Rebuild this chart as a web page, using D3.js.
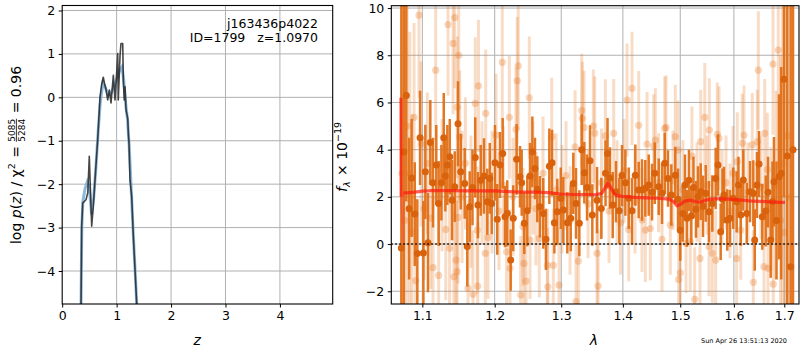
<!DOCTYPE html>
<html><head><meta charset="utf-8">
<script src="https://cdn.jsdelivr.net/npm/d3@7"></script>
<style>
body{margin:0;background:#fff}
text{font-family:"DejaVu Sans",sans-serif;fill:#000}
</style>
</head><body>
<svg id="c" width="800" height="350"></svg>
<script>
// ---- redshift posterior: log p(z) ----
const pzZ   = [0.346,0.358,0.377,0.406,0.437,0.470,0.498,0.517,0.542,0.572,0.615,0.652,0.695,0.725,0.756,0.780,0.800,0.836,0.866,0.897,0.940,0.970,1.000,1.020,1.030,1.063,1.080,1.112,1.123,1.140,1.155,1.173,1.190,1.205,1.215,1.228,1.246,1.277,1.307,1.338,1.369];
const pzLog = [-4.76,-2.97,-2.43,-2.40,-2.36,-2.20,-1.36,-2.09,-2.97,-2.50,-1.67,-0.98,0.01,0.30,0.46,0.30,0.21,-0.06,0.17,-0.13,0.51,-0.06,0.55,1.01,-0.06,0.97,1.24,1.24,0.40,-0.06,0.24,-0.29,-0.40,-0.50,-0.83,-1.06,-1.90,-2.28,-3.20,-3.97,-4.76];
const pzSmoothZ   = [0.346,0.360,0.380,0.420,0.460,0.500,0.540,0.580,0.620,0.660,0.700,0.750,0.800,0.850,0.900,0.950,1.000,1.050,1.100,1.130,1.170,1.200,1.230,1.260,1.300,1.340,1.369];
const pzSmoothLog = [-4.76,-3.00,-2.40,-2.10,-1.95,-2.10,-2.70,-2.30,-1.60,-0.80,-0.10,0.35,0.20,0.05,0.10,0.25,0.40,0.60,0.70,0.40,-0.20,-0.50,-1.10,-1.90,-3.00,-4.00,-4.76];
const zTicks = [0,1,2,3,4];
const pzTicks = [-4,-3,-2,-1,0,1,2];

// ---- 1D spectrum: high-S/N beam ----
const darkWave = [1.0726,1.0757,1.0790,1.0826,1.0859,1.0900,1.0934,1.0970,1.1014,1.1040,1.1075,1.1106,1.1142,1.1186,1.1218,1.1255,1.1287,1.1309,1.1336,1.1369,1.1400,1.1437,1.1482,1.1520,1.1575,1.1611,1.1645,1.1684,1.1723,1.1761,1.1800,1.1847,1.1894,1.1929,1.1957,1.2004,1.2037,1.2077,1.2116,1.2150,1.2183,1.2233,1.2271,1.2321,1.2371,1.2396,1.2435,1.2480,1.2521,1.2556,1.2596,1.2631,1.2672,1.2722,1.2763,1.2815,1.2857,1.2893,1.2939,1.2992,1.3033,1.3095,1.3149,1.3190,1.3233,1.3286,1.3324,1.3366,1.3410,1.3458,1.3495,1.3572,1.3642,1.3711,1.3744,1.3785,1.3830,1.3885,1.3940,1.3986,1.4042,1.4099,1.4155,1.4211,1.4269,1.4326,1.4383,1.4442,1.4500,1.4547,1.4617,1.4675,1.4723,1.4781,1.4840,1.4911,1.4960,1.5001,1.5044,1.5086,1.5122,1.5158,1.5201,1.5241,1.5287,1.5324,1.5374,1.5417,1.5467,1.5528,1.5590,1.5653,1.5697,1.5748,1.5782,1.5811,1.5873,1.5925,1.5988,1.6053,1.6088,1.6132,1.6182,1.6249,1.6313,1.6378,1.6406,1.6451,1.6491,1.6556,1.6624,1.6670,1.6724,1.6760,1.6790,1.6841,1.6892,1.6938,1.6993,1.7060,1.7131,1.7179];
const darkFlux = [-0.17,3.90,6.30,1.50,2.80,1.27,-0.40,4.50,-0.38,3.06,0.06,4.30,2.60,3.35,1.72,2.60,4.50,2.88,3.35,3.70,1.86,2.43,5.10,3.06,2.57,-0.10,1.58,2.40,3.67,1.65,2.70,2.88,1.79,2.78,1.72,3.44,1.05,3.35,3.84,1.16,1.30,-0.68,1.09,3.59,2.85,2.60,0.88,1.41,2.88,3.91,3.20,2.32,1.58,1.30,0.20,3.30,3.44,0.90,1.37,1.94,1.44,0.90,1.09,2.57,1.72,0.88,4.00,3.02,2.40,3.53,1.23,1.86,1.51,3.00,3.84,2.80,1.65,2.22,1.41,2.90,2.60,1.94,1.41,2.92,2.29,2.29,2.36,2.50,2.20,3.00,2.43,2.15,3.42,2.78,2.08,2.92,1.90,0.59,1.30,2.50,1.09,2.70,1.19,2.40,1.47,2.00,2.22,1.60,2.15,1.37,1.72,2.78,3.35,0.52,1.90,2.08,1.02,1.09,1.94,1.79,2.50,1.23,2.71,1.30,2.22,2.15,0.17,2.50,3.39,1.16,1.40,2.20,0.17,1.80,2.64,1.00,2.85,3.00,6.98,3.73,-0.96,4.00];
const darkErr  = [12.0,10.0,4.5,3.0,2.5,2.2,2.3,2.0,2.2,2.0,2.1,1.8,1.9,1.7,1.8,1.6,1.9,1.5,1.7,1.6,1.7,1.5,1.8,1.6,1.5,1.7,1.5,1.6,1.7,1.4,1.5,1.6,1.4,1.5,1.3,1.6,1.5,1.4,1.5,1.3,1.4,1.3,1.4,1.5,1.3,1.4,1.3,1.5,1.4,1.5,1.3,1.4,1.3,1.5,1.3,1.6,1.4,1.3,1.4,1.3,1.4,1.3,1.4,1.3,1.5,1.4,1.5,1.3,1.4,1.5,1.3,1.4,1.3,1.4,1.5,1.3,1.4,1.3,1.4,1.3,1.4,1.3,1.4,1.3,1.2,1.3,1.2,1.3,1.2,1.3,1.2,1.3,1.3,1.2,1.3,1.2,1.3,1.3,1.2,1.3,1.2,1.3,1.2,1.3,1.2,1.3,1.2,1.3,1.2,1.3,1.2,1.3,1.3,1.2,1.3,1.2,1.3,1.2,1.3,1.3,1.2,1.3,1.3,1.3,1.3,1.4,1.3,1.4,1.4,1.4,1.5,1.5,1.6,1.7,1.9,2.5,3.5,4.5,5.0,8.0,12.0,14.0];

// ---- 1D spectrum: low-S/N beam ----
const lightWave = [1.0735,1.0768,1.0800,1.0835,1.0865,1.0891,1.0913,1.0956,1.0983,1.1022,1.1066,1.1111,1.1142,1.1178,1.1218,1.1264,1.1314,1.1345,1.1366,1.1414,1.1425,1.1437,1.1455,1.1469,1.1473,1.1482,1.1492,1.1506,1.1538,1.1584,1.1621,1.1663,1.1691,1.1723,1.1751,1.1758,1.1768,1.1818,1.1865,1.1871,1.1904,1.1961,1.2019,1.2062,1.2110,1.2125,1.2174,1.2213,1.2223,1.2267,1.2311,1.2330,1.2345,1.2381,1.2416,1.2428,1.2461,1.2510,1.2521,1.2567,1.2611,1.2661,1.2718,1.2785,1.2791,1.2852,1.2877,1.2919,1.2965,1.3013,1.3075,1.3138,1.3218,1.3233,1.3270,1.3324,1.3334,1.3362,1.3426,1.3512,1.3535,1.3572,1.3589,1.3645,1.3708,1.3769,1.3847,1.3902,1.3961,1.4020,1.4071,1.4099,1.4155,1.4206,1.4269,1.4326,1.4383,1.4413,1.4470,1.4529,1.4558,1.4614,1.4675,1.4723,1.4746,1.4822,1.4870,1.4911,1.4960,1.4972,1.5001,1.5049,1.5104,1.5182,1.5213,1.5263,1.5305,1.5361,1.5374,1.5449,1.5492,1.5528,1.5534,1.5590,1.5653,1.5684,1.5716,1.5773,1.5849,1.5925,1.5982,1.6053,1.6065,1.6132,1.6163,1.6196,1.6274,1.6358,1.6378,1.6457,1.6477,1.6530,1.6590,1.6604,1.6656,1.6670,1.6730,1.6770,1.6776,1.6831,1.6877,1.6922,1.6959,1.7004,1.7049,1.7096];
const lightFlux = [3.00,1.00,5.00,3.00,0.50,5.37,-1.55,9.70,4.24,1.50,3.42,1.10,-1.00,7.37,-1.33,2.50,0.62,9.30,-0.18,8.50,-1.39,9.60,-0.68,-1.17,5.80,1.13,8.00,4.55,2.00,3.42,-1.88,1.80,-2.13,5.96,0.59,-1.78,6.70,2.60,-0.39,5.54,0.28,2.20,4.62,1.40,7.70,2.50,-0.33,5.37,-1.03,2.00,4.86,6.92,7.55,-2.16,0.73,-0.82,-1.57,6.20,0.17,2.80,1.50,0.24,3.00,-0.90,-1.81,4.55,-0.90,2.30,-1.74,1.90,2.90,1.00,4.12,-2.44,-0.72,5.66,5.32,4.94,1.70,5.00,4.70,-0.39,-1.78,2.60,4.58,1.40,4.69,2.20,0.90,3.10,6.10,0.62,6.60,1.80,5.03,1.02,0.59,4.24,0.66,4.15,4.40,2.60,0.20,4.90,4.94,0.80,2.70,4.55,3.98,-1.50,-1.22,2.30,0.03,0.10,3.73,-2.34,2.20,-0.61,4.34,5.37,2.50,-0.11,4.83,-0.39,-0.68,4.65,4.48,2.00,2.60,1.40,3.00,-0.61,3.49,0.59,4.27,4.62,2.20,4.20,-1.62,4.34,7.37,2.40,-0.96,4.69,3.16,-1.03,1.50,7.63,-1.70,2.50,8.22,1.00,3.42,0.50,4.58,2.00];
const lightErr  = [15.0,15.0,12.0,6.0,5.0,4.0,3.5,3.5,3.5,3.0,3.0,3.0,3.0,3.0,3.0,2.8,3.0,3.0,3.0,3.0,2.8,3.0,3.0,3.0,3.0,2.8,3.0,2.8,2.8,2.8,2.8,2.8,2.7,2.8,2.7,2.7,2.8,2.6,2.7,2.7,2.6,2.6,2.6,2.5,2.8,2.5,2.5,2.6,2.5,2.5,2.6,2.7,2.7,2.5,2.5,2.5,2.5,2.6,2.5,2.4,2.4,2.5,2.4,2.4,2.5,2.5,2.4,2.4,2.4,2.3,2.3,2.3,2.4,2.4,2.3,2.4,2.4,2.4,2.3,2.4,2.4,2.4,2.4,2.3,2.4,2.2,2.3,2.2,2.2,2.2,2.4,2.2,2.4,2.2,2.3,2.2,2.2,2.2,2.2,2.2,2.2,2.1,2.2,2.2,2.2,2.1,2.1,2.2,2.1,2.2,2.2,2.1,2.1,2.1,2.1,2.2,2.1,2.1,2.2,2.3,2.1,2.1,2.2,2.1,2.1,2.2,2.2,2.0,2.0,2.0,2.0,2.1,2.1,2.1,2.1,2.1,2.1,2.2,2.2,2.2,2.5,2.2,2.3,2.3,2.4,2.4,2.6,3.0,3.0,4.0,5.0,7.0,9.0,12.0,12.0,14.0];

// ---- best-fit model ----
const modelWave = [1.0720,1.0722,1.0748,1.0752,1.0800,1.0900,1.1000,1.1100,1.1200,1.1400,1.1600,1.1800,1.2000,1.2200,1.2400,1.2600,1.2800,1.3000,1.3200,1.3400,1.3550,1.3650,1.3700,1.3750,1.3800,1.3850,1.3900,1.4000,1.4200,1.4400,1.4600,1.4800,1.4880,1.4940,1.5000,1.5080,1.5180,1.5280,1.5350,1.5450,1.5550,1.5700,1.5900,1.6100,1.6300,1.6500,1.6700,1.6900,1.7015];
const modelFlux = [6.20,2.00,0.00,2.17,2.17,2.20,2.24,2.26,2.27,2.26,2.25,2.25,2.25,2.22,2.20,2.20,2.18,2.12,2.10,2.10,2.09,2.15,2.38,2.58,2.38,2.15,2.05,2.02,1.98,1.96,1.94,1.90,1.80,1.62,1.68,1.82,1.86,1.80,1.77,1.85,1.90,1.92,1.90,1.87,1.83,1.81,1.79,1.77,1.77];
const waveTicks = [1.1,1.2,1.3,1.4,1.5,1.6,1.7];
const fluxTicks = [-2,0,2,4,6,8,10];

const svg = d3.select("#c");
const FS = 12.5;

// ---------------- left panel ----------------
const L = {x0:62.2, x1:332.7, y0:5.5, y1:304};
const xz = d3.scaleLinear().domain([0,4.97]).range([L.x0,L.x1]);
const yp = d3.scaleLinear().domain([-4.76,2.115]).range([L.y1,L.y0]);

function grid(g, xs, xt, ys, yt, P){
  g.selectAll("line.gx").data(xt).join("line")
    .attr("x1",d=>xs(d)).attr("x2",d=>xs(d)).attr("y1",P.y0).attr("y2",P.y1)
    .attr("stroke","#b0b0b0").attr("stroke-width",1);
  g.selectAll("line.gy").data(yt).join("line").attr("class","gy")
    .attr("y1",d=>ys(d)).attr("y2",d=>ys(d)).attr("x1",P.x0).attr("x2",P.x1)
    .attr("stroke","#b0b0b0").attr("stroke-width",1);
}
function axes(xs, xt, xf, ys, yt, yf, P){
  const ax = svg.append("g").attr("transform",`translate(0,${P.y1})`)
    .call(d3.axisBottom(xs).tickValues(xt).tickFormat(xf).tickSize(3.5).tickPadding(3.5));
  const ay = svg.append("g").attr("transform",`translate(${P.x0},0)`)
    .call(d3.axisLeft(ys).tickValues(yt).tickFormat(yf).tickSize(3.5).tickPadding(3.5));
  [ax,ay].forEach(a=>{
    a.select(".domain").remove();
    a.selectAll("line").attr("stroke","#000").attr("stroke-width",1);
    a.selectAll("text").style("font-family","DejaVu Sans").style("font-size",FS+"px").attr("fill","#000");
  });
  svg.append("rect").attr("x",P.x0).attr("y",P.y0).attr("width",P.x1-P.x0).attr("height",P.y1-P.y0)
    .attr("fill","none").attr("stroke","#000").attr("stroke-width",1.1);
}

const gl = svg.append("g");
grid(gl, xz, zTicks.slice(1), yp, pzTicks, L);
svg.append("clipPath").attr("id","clipL").append("rect")
  .attr("x",L.x0).attr("y",L.y0).attr("width",L.x1-L.x0).attr("height",L.y1-L.y0);
const gLc = svg.append("g").attr("clip-path","url(#clipL)");
const lineZ = d3.line().x(d=>xz(d[0])).y(d=>yp(d[1]));
gLc.append("path").datum(d3.zip(pzSmoothZ,pzSmoothLog)).attr("d",lineZ)
  .attr("fill","none").attr("stroke","#6fa8d6").attr("stroke-width",3).attr("opacity",0.8);
gLc.append("path").datum(d3.zip(pzZ,pzLog)).attr("d",lineZ)
  .attr("fill","none").attr("stroke","#262626").attr("stroke-width",1.6).attr("opacity",0.85)
  .attr("stroke-linejoin","round");
axes(xz, zTicks, d3.format("d"), yp, pzTicks, d3.format("d"), L);

svg.append("text").attr("x",318).attr("y",27.5).attr("text-anchor","end")
  .style("font-size",FS+"px").text("j163436p4022");
svg.append("text").attr("x",318).attr("y",42).attr("text-anchor","end")
  .style("font-size",FS+"px").attr("xml:space","preserve").text("ID=1799   z=1.0970");
svg.append("text").attr("x",xz(2.48)).attr("y",345).attr("text-anchor","middle")
  .style("font-size","14px").style("font-style","italic").text("z");

// left y label assembled piece by piece (rotated)
(function(){
  const g = svg.append("g");
  let x = 0;
  function piece(t, size, dy, italic){
    const el = g.append("text").attr("x",x).attr("y",dy).style("font-size",size+"px")
      .attr("xml:space","preserve").text(t);
    if(italic) el.style("font-style","italic");
    const w = el.node().getComputedTextLength();
    return {el,w};
  }
  let p;
  p = piece("log ",14,0,false); x += p.w;
  p = piece("p",14,0,true); x += p.w;
  p = piece("(",14,0,false); x += p.w;
  p = piece("z",14,0,true); x += p.w;
  p = piece(") / χ",14,0,false); x += p.w;
  p = piece("2",9.5,-6,false); x += p.w + 1;
  p = piece(" = ",14,0,false); x += p.w;
  const n = piece("5085",9,-6.5,false);
  const d = piece("5284",9,4,false);
  const fw = Math.max(n.w,d.w);
  g.append("line").attr("x1",x).attr("x2",x+fw).attr("y1",-4.6).attr("y2",-4.6)
    .attr("stroke","#000").attr("stroke-width",0.8);
  x += fw + 1;
  p = piece(" = 0.96",14,0,false); x += p.w;
  g.attr("transform",`translate(21,${155 + x/2}) rotate(-90)`);
})();

// ---------------- right panel ----------------
const R = {x0:391.3, x1:799, y0:5.7, y1:304};
const xw = d3.scaleLog().domain([1.0597,1.7303]).range([R.x0,R.x1]);
const yf = d3.scaleLinear().domain([-2.54,10.1]).range([R.y1,R.y0]);

const gr = svg.append("g");
grid(gr, xw, waveTicks, yf, fluxTicks, R);
svg.append("clipPath").attr("id","clipR").append("rect")
  .attr("x",R.x0).attr("y",R.y0).attr("width",R.x1-R.x0).attr("height",R.y1-R.y0);
const gRc = svg.append("g").attr("clip-path","url(#clipR)");

const ORANGE = "#e8731c";
const light = d3.zip(lightWave,lightFlux,lightErr);
const dark  = d3.zip(darkWave,darkFlux,darkErr);

gRc.append("g").selectAll("line").data(light).join("line")
  .attr("x1",d=>xw(d[0])).attr("x2",d=>xw(d[0]))
  .attr("y1",d=>yf(d[1]-d[2])).attr("y2",d=>yf(d[1]+d[2]))
  .attr("stroke",ORANGE).attr("stroke-opacity",0.25).attr("stroke-width",3);
gRc.append("g").selectAll("circle").data(light).join("circle")
  .attr("cx",d=>xw(d[0])).attr("cy",d=>yf(d[1])).attr("r",3.6)
  .attr("fill",ORANGE).attr("fill-opacity",0.3);

gRc.append("g").selectAll("line").data(dark).join("line")
  .attr("x1",d=>xw(d[0])).attr("x2",d=>xw(d[0]))
  .attr("y1",d=>yf(d[1]-d[2])).attr("y2",d=>yf(d[1]+d[2]))
  .attr("stroke","#e07018").attr("stroke-opacity",0.95).attr("stroke-width",2.5);
gRc.append("g").selectAll("circle").data(dark).join("circle")
  .attr("cx",d=>xw(d[0])).attr("cy",d=>yf(d[1])).attr("r",3.5)
  .attr("fill","#d9620c");

// model: the first segments (edge of the trace) are drawn faint, the rest solid
const modelPts = d3.zip(modelWave,modelFlux);
const mLine = d3.line().x(d=>xw(d[0])).y(d=>yf(d[1]));
gRc.append("path").datum(modelPts.slice(1,4)).attr("d",mLine)
  .attr("fill","none").attr("stroke","#ff4040").attr("stroke-opacity",0.45).attr("stroke-width",1.5);
gRc.append("path").datum(modelPts.slice(0,2)).attr("d",mLine)
  .attr("fill","none").attr("stroke","#ff1a10").attr("stroke-opacity",0.7).attr("stroke-width",3);
gRc.append("path").datum(modelPts.slice(3)).attr("d",mLine)
  .attr("fill","none").attr("stroke","#ff1a10").attr("stroke-opacity",0.7)
  .attr("stroke-width",3.2).attr("stroke-linejoin","round");

gRc.append("line").attr("x1",R.x0).attr("x2",R.x1).attr("y1",yf(0)).attr("y2",yf(0))
  .attr("stroke","#000").attr("stroke-width",1.5).attr("stroke-dasharray","1.5,2.5");

axes(xw, waveTicks, d3.format(".1f"), yf, fluxTicks, d3.format("d"), R);

svg.append("text").attr("x",594).attr("y",345).attr("text-anchor","middle")
  .style("font-size","14px").style("font-style","italic").text("λ");

// right y label: f_λ × 10^-19
(function(){
  const g = svg.append("g");
  let x = 0;
  function piece(t, size, dy, italic){
    const el = g.append("text").attr("x",x).attr("y",dy).style("font-size",size+"px")
      .attr("xml:space","preserve").text(t);
    if(italic) el.style("font-style","italic");
    return el.node().getComputedTextLength();
  }
  x += piece("f",14,0,true);
  x += piece("λ",9.5,3,true) + 1;
  x += piece(" × 10",14,0,false);
  x += piece("−19",9.5,-6,false);
  g.attr("transform",`translate(347,${157 + x/2}) rotate(-90)`);
})();

svg.append("text").attr("x",787).attr("y",343).attr("text-anchor","end")
  .style("font-size","6.5px").text("Sun Apr 26 13:51:13 2020");
</script>
</body></html>
